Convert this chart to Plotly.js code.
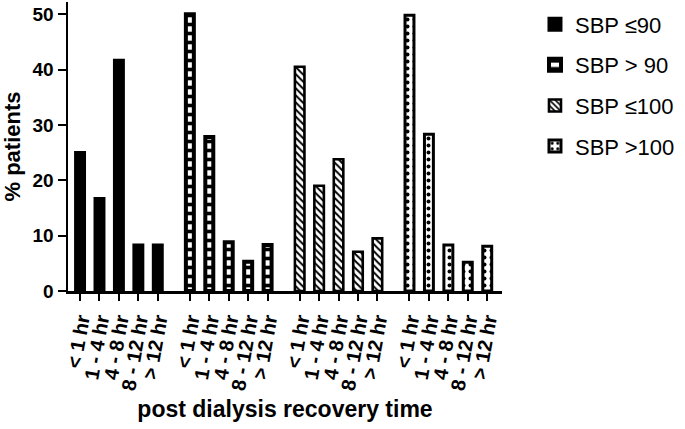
<!DOCTYPE html>
<html>
<head>
<meta charset="utf-8">
<script src="https://cdn.plot.ly/plotly-3.0.1.min.js"></script>
<style>html,body{margin:0;padding:0;background:#fff}#chart{width:685px;height:429px}</style>
</head>
<body>
<div id="chart"></div>
<script>
// ---- data ----
var timeCategories = ['< 1 hr', '1 - 4 hr', '4 - 8 hr', '8 - 12 hr', '> 12 hr'];
var seriesNames = ['SBP \u226490', 'SBP > 90', 'SBP \u2264100', 'SBP >100'];
var sbpLe90  = [25.0, 16.7, 41.7, 8.3, 8.3];
var sbpGt90  = [50.0, 27.8, 8.8, 5.3, 8.3];
var sbpLe100 = [40.5, 19.0, 23.8, 7.1, 9.5];
var sbpGt100 = [49.8, 28.3, 8.3, 5.2, 8.1];
var yTickVals = [0, 10, 20, 30, 40, 50];
var xTitle = 'post dialysis recovery time';
var yTitle = '% patients';

// ---- layout helpers ----
var seriesValues = [sbpLe90, sbpGt90, sbpLe100, sbpGt100];
var groupStep = 5.65;
var styles = [
  {shape: '', fill: 'black', lw: 3, w: 0.46},
  {shape: '-', fill: 'white', size: 9, solidity: 0.4, lw: 4, w: 0.41},
  {shape: '\\', fill: 'white', size: 5, solidity: 0.4, lw: 2.6, w: 0.49},
  {shape: '.', fill: 'white', size: 7, solidity: 0.25, lw: 3, w: 0.46}
];

var traces = [];
var tickVals = [], tickText = [];
seriesValues.forEach(function (vals, g) {
  var xs = timeCategories.map(function (c, i) { return g * groupStep + i; });
  xs.forEach(function (x, i) { tickVals.push(x); tickText.push(timeCategories[i]); });
  var s = styles[g];
  var marker = {color: s.fill, line: {color: 'black', width: s.lw}};
  if (s.shape) {
    marker.pattern = {shape: s.shape, fgcolor: 'black', bgcolor: 'white', size: s.size, solidity: s.solidity, fillmode: 'replace'};
  }
  traces.push({
    type: 'bar', x: xs, y: vals, name: seriesNames[g], width: s.w,
    marker: marker, legendgroup: 'g' + g, hoverinfo: 'skip'
  });
});

var font = 'Liberation Sans, Arial, sans-serif';
var layout = {
  width: 685, height: 429,
  margin: {l: 68, r: 183, t: 2, b: 138, pad: 0},
  paper_bgcolor: 'white', plot_bgcolor: 'white',
  barmode: 'overlay',
  font: {family: font, color: 'black'},
  showlegend: true,
  legend: {
    x: 1.076, xanchor: 'left', y: 0.995, yanchor: 'top',
    font: {family: font, size: 22, color: 'black'},
    tracegroupgap: 9, bgcolor: 'rgba(0,0,0,0)'
  },
  xaxis: {
    range: [-0.62, 3 * groupStep + 4 + 0.76],
    tickmode: 'array', tickvals: tickVals, ticktext: tickText,
    tickangle: -80,
    tickfont: {family: font, size: 20, weight: 'bold', color: 'black'},
    ticks: 'outside', ticklen: 7, tickwidth: 2, tickcolor: 'black',
    showline: true, linewidth: 2.5, linecolor: 'black',
    showgrid: false, zeroline: false, automargin: false,
    title: {text: xTitle, font: {family: font, size: 23, weight: 'bold', color: 'black'}, standoff: 10}
  },
  yaxis: {
    range: [0, 52.2],
    tickmode: 'array', tickvals: yTickVals,
    tickfont: {family: font, size: 19, weight: 'bold', color: 'black'},
    ticks: 'outside', ticklen: 8, tickwidth: 2, tickcolor: 'black',
    showline: true, linewidth: 2.5, linecolor: 'black',
    showgrid: false, zeroline: false, automargin: false,
    title: {text: yTitle, font: {family: font, size: 22, weight: 'bold', color: 'black'}, standoff: 10}
  }
};

Plotly.newPlot('chart', traces, layout, {staticPlot: true, displayModeBar: false});
</script>
</body>
</html>
